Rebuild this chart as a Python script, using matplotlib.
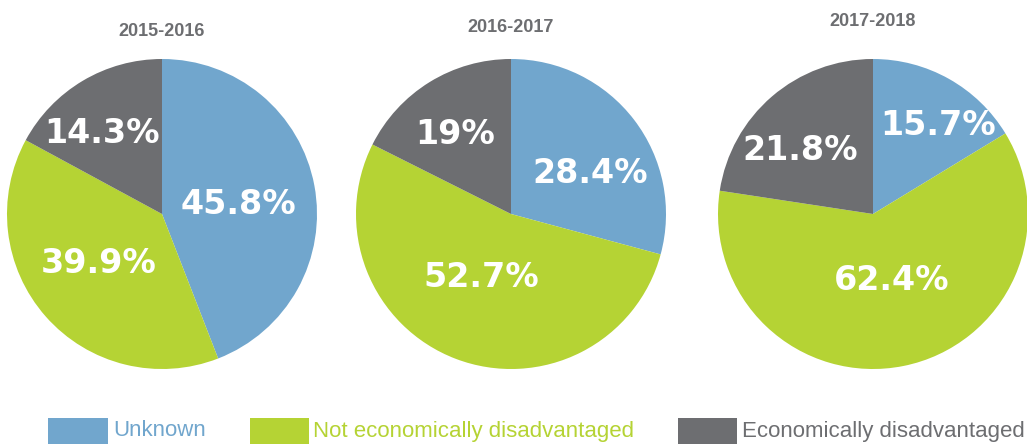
import matplotlib
matplotlib.use("Agg")
import matplotlib.pyplot as plt
from matplotlib.patches import Rectangle

years = ["2015-2016", "2016-2017", "2017-2018"]
categories = ["Unknown", "Not economically disadvantaged", "Economically disadvantaged"]
# wedge sizes as drawn in the reference (percent)
unknown = [44.1, 29.2, 16.3]
not_disadv = [38.8, 53.2, 61.1]
disadv = [17.1, 17.6, 22.6]
# printed labels
value_labels = [["45.8%", "39.9%", "14.3%"],
                ["28.4%", "52.7%", "19%"],
                ["15.7%", "62.4%", "21.8%"]]

colors = ["#71a6cd", "#b5d334", "#6d6e71"]
W, H = 1027, 445
fig = plt.figure(figsize=(W / 100, H / 100), dpi=100)

centers_px = [(162, 214), (511, 214), (873, 214)]
R = 155
title_y = [32, 28, 21]
# label positions in units of radius, relative to pie centre
label_pos = [[(0.49, 0.06), (-0.41, -0.32), (-0.39, 0.52)],
             [(0.51, 0.26), (-0.19, -0.41), (-0.36, 0.51)],
             [(0.42, 0.57), (0.12, -0.43), (-0.47, 0.41)]]

for i in range(3):
    cx, cy = centers_px[i]
    ax = fig.add_axes([(cx - R) / W, (H - cy - R) / H, 2 * R / W, 2 * R / H])
    vals = [unknown[i], not_disadv[i], disadv[i]]
    ax.pie(vals, colors=colors, startangle=90, counterclock=False, radius=1,
           wedgeprops=dict(linewidth=0))
    ax.set_xlim(-1, 1)
    ax.set_ylim(-1, 1)
    ax.set_aspect("equal")
    ax.axis("off")
    for j in range(3):
        x, y = label_pos[i][j]
        ax.text(x, y, value_labels[i][j], ha="center", va="center", color="white",
                fontsize=24, fontweight="bold", family="DejaVu Sans")
    fig.text(cx / W, 1 - title_y[i] / H, years[i], ha="center", va="center",
             fontsize=13, fontweight="bold", color="#6d6e71",
             family=["Liberation Sans Narrow", "Liberation Sans", "DejaVu Sans"])

# legend
leg_boxes = [(48, 108), (250, 309), (678, 737)]
leg_text_x = [113, 313, 742]
for k in range(3):
    x0, x1 = leg_boxes[k]
    fig.patches.append(Rectangle((x0 / W, 1 - 444 / H), (x1 - x0) / W, 26 / H,
                                 transform=fig.transFigure, color=colors[k], lw=0))
    fig.text(leg_text_x[k] / W, 1 - 431 / H, categories[k], ha="left", va="center",
             fontsize=16, color=colors[k],
             family=["Liberation Sans Narrow", "Liberation Sans", "DejaVu Sans"])

fig.savefig("out.png", dpi=100)
